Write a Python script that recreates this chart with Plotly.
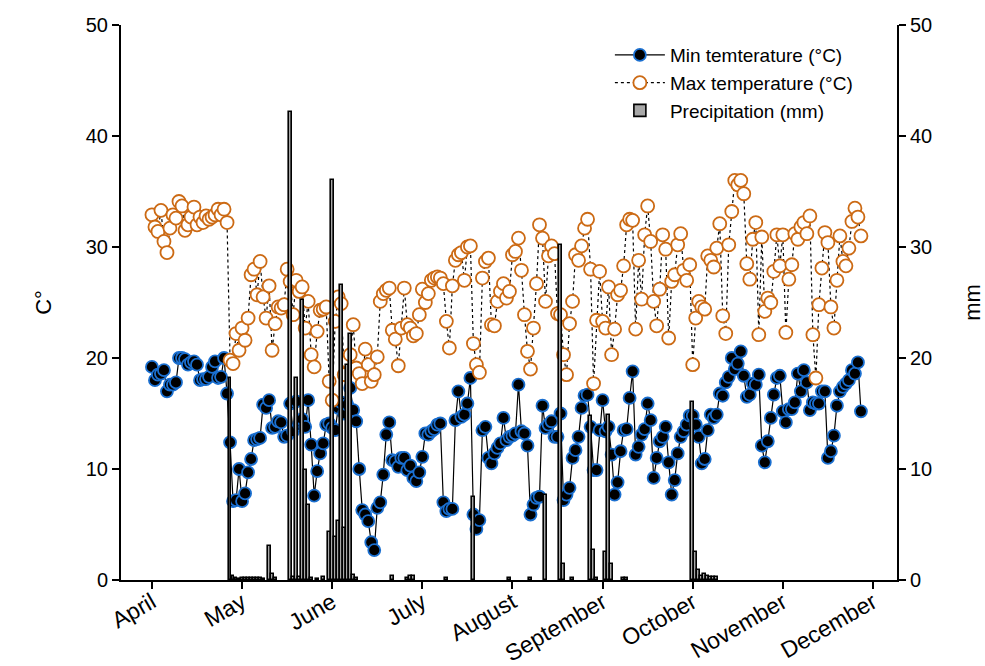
import plotly.graph_objects as go

# Day index from 1 April (ticks every 30 days labelled by month)
month_labels = ["April", "May", "June", "July", "August", "September", "October", "November", "December"]
month_ticks = [0, 30, 60, 90, 120, 150, 180, 210, 240]

min_temp = [
    19.2, 18.0, 18.5, 18.6, 18.9, 17.0, 17.6, 17.6, 17.8, 20.0,
    20.0, 19.9, 19.4, 19.6, 19.7, 19.4, 18.0, 18.1, 18.1, 18.3,
    19.2, 19.7, 18.2, 18.3, 20.0, 16.8, 12.4, 7.1, 7.2, 10.0,
    7.1, 7.8, 9.7, 10.9, 12.6, 12.7, 12.8, 15.8, 15.5, 16.2,
    13.7, 13.8, 14.3, 14.2, 12.9, 13.0, 15.9, 13.4, 16.1, 14.0,
    14.5, 13.8, 16.2, 12.2, 7.6, 9.8, 11.4, 12.3, 14.0, 14.1,
    13.7, 13.5, 15.5, 16.0, 15.0, 15.8, 17.3, 15.3, 14.3, 10.0,
    6.3, 5.9, 5.3, 3.4, 2.7, 6.5, 7.0, 9.5, 13.1, 14.2,
    10.8, 10.7, 10.2, 11.0, 11.0, 9.9, 10.3, 9.2, 8.9, 9.7,
    11.1, 13.2, 13.1, 13.4, 13.6, 14.0, 14.1, 7.0, 6.2, 6.4,
    6.4, 14.4, 17.0, 14.7, 14.9, 15.9, 18.2, 5.9, 4.6, 5.4,
    13.5, 13.8, 11.0, 10.5, 11.4, 11.9, 12.3, 14.6, 12.6, 12.9,
    13.0, 13.2, 17.6, 13.4, 13.2, 12.1, 5.9, 6.8, 7.4, 7.5,
    15.7, 13.7, 14.0, 14.3, 12.9, 12.9, 15.0, 7.2, 7.7, 8.3,
    11.0, 11.7, 12.9, 15.5, 16.6, 16.7, 13.8, 9.9, 9.9, 13.5,
    16.2, 13.4, 13.8, 11.3, 7.7, 8.8, 11.6, 13.5, 13.6, 16.4,
    18.8, 11.3, 12.0, 13.1, 13.6, 15.9, 14.4, 9.2, 11.0, 12.5,
    12.9, 13.8, 10.6, 7.7, 9.0, 11.4, 12.9, 13.4, 14.0, 14.8,
    14.8, 14.0, 12.9, 10.5, 10.9, 13.5, 14.9, 14.6, 14.9, 16.8,
    16.6, 17.8, 18.3, 20.0, 19.0, 19.5, 20.6, 18.4, 16.5, 16.7,
    17.7, 17.6, 18.5, 12.1, 10.6, 12.5, 14.6, 16.7, 18.2, 18.4,
    15.2, 14.2, 15.4, 15.4, 16.0, 18.6, 17.0, 18.9, 17.8, 15.3,
    16.0, 15.9, 15.9, 17.0, 17.0, 11.0, 11.6, 13.0, 15.7, 17.0,
    17.4, 17.7, 18.0, 18.9, 18.6, 19.6, 15.2,
]

max_temp = [
    32.9, 31.8, 31.4, 33.3, 30.5, 29.5, 31.7, 32.9, 32.6, 34.1,
    33.7, 31.5, 32.0, 32.7, 33.6, 32.0, 32.7, 32.2, 32.8, 32.5,
    32.7, 32.9, 33.4, 32.9, 33.4, 32.2, 19.8, 19.5, 22.2, 20.7,
    22.7, 21.6, 23.6, 27.5, 28.0, 25.7, 28.7, 25.5, 23.6, 26.5,
    20.7, 23.1, 24.6, 24.5, 24.8, 28.0, 26.9, 23.9, 27.0, 26.0,
    26.4, 22.7, 25.1, 20.3, 19.2, 22.4, 24.3, 24.4, 24.6, 17.9,
    16.2, 23.3, 25.5, 24.9, 18.5, 19.7, 20.3, 23.0, 19.1, 18.6,
    17.7, 20.8, 19.4, 17.9, 18.5, 20.1, 25.1, 25.8, 26.1, 26.3,
    22.5, 21.7, 19.3, 22.7, 26.3, 23.0, 22.7, 22.0, 22.2, 23.9,
    26.2, 25.0, 25.8, 27.0, 27.2, 27.3, 27.2, 26.7, 23.3, 20.9,
    26.5, 28.8, 29.3, 29.5, 27.0, 30.0, 30.1, 21.3, 19.4, 18.7,
    27.2, 28.7, 29.0, 23.0, 22.9, 25.1, 26.0, 26.7, 25.4, 26.0,
    29.3, 29.6, 30.8, 27.9, 23.9, 20.6, 19.0, 22.7, 26.7, 32.0,
    30.8, 25.1, 29.2, 30.1, 29.4, 24.0, 23.9, 20.3, 18.5, 23.1,
    25.1, 29.3, 28.8, 30.1, 31.7, 32.5, 28.0, 17.7, 23.4, 27.8,
    23.3, 22.7, 26.4, 20.3, 22.6, 25.7, 26.1, 28.3, 32.0, 32.5,
    32.4, 22.6, 28.8, 25.3, 31.1, 33.7, 30.5, 25.1, 22.9, 26.2,
    31.1, 29.8, 21.8, 26.9, 27.5, 30.2, 31.2, 27.9, 27.0, 28.4,
    19.4, 23.6, 25.1, 24.6, 24.4, 29.2, 28.8, 28.2, 29.9, 32.1,
    23.8, 22.2, 30.2, 33.2, 36.0, 35.6, 36.0, 34.8, 28.5, 27.1,
    30.7, 32.2, 22.1, 30.9, 24.2, 25.4, 25.0, 27.8, 31.1, 28.3,
    31.1, 22.3, 27.1, 28.4, 31.2, 30.7, 31.8, 32.2, 31.2, 32.8,
    22.1, 18.2, 24.8, 28.1, 31.3, 30.4, 24.6, 22.7, 27.0, 31.0,
    28.7, 28.3, 29.9, 32.3, 33.5, 32.7, 31.0,
]

precip_days = [
    26, 27, 28, 29, 30, 31, 32, 33, 34, 35, 36, 37, 39, 40, 41,
    46, 47, 48, 49, 50, 51, 52, 53, 55, 57, 59, 60, 61, 62, 63, 64, 65, 66, 67, 68,
    80, 85, 86, 87, 98, 107, 119, 126, 131, 136, 137, 140,
    146, 147, 148, 151, 152, 153, 157, 158,
    180, 181, 182, 183, 184, 185, 186, 187, 188,
]
precip_mm = [
    18.2, 0.4, 0.2, 0.1, 0.2, 0.2, 0.2, 0.2, 0.2, 0.2, 0.2, 0.1, 3.1, 0.5, 0.2,
    42.2, 0.3, 18.2, 0.3, 25.2, 9.9, 6.8, 0.2, 0.1, 0.3, 4.3, 36.0, 3.9, 5.3, 26.6, 4.7, 19.4, 22.2, 0.45, 0.2,
    0.4, 0.2, 0.4, 0.4, 0.2, 7.5, 0.2, 0.2, 7.7, 30.2, 1.4, 0.2,
    14.8, 2.7, 0.2, 2.5, 14.9, 1.4, 0.2, 0.2,
    16.0, 2.5, 0.9, 0.4, 0.5, 0.4, 0.3, 0.3, 0.3,
]

days = list(range(len(min_temp)))

FONT = "Arial, Liberation Sans, Helvetica, sans-serif"

fig = go.Figure()

fig.add_trace(go.Scatter(
    x=days, y=min_temp, mode="lines+markers",
    name="Min temterature (°C)",
    line=dict(color="black", width=1.2),
    marker=dict(symbol="circle", size=12, color="black",
                line=dict(color="#1a6fd0", width=1.8)),
))

fig.add_trace(go.Scatter(
    x=days, y=max_temp, mode="lines+markers",
    name="Max temperature (°C)",
    line=dict(color="black", width=1.2, dash="dot"),
    marker=dict(symbol="circle", size=13, color="white",
                line=dict(color="#cc6a14", width=1.8)),
))

fig.add_trace(go.Bar(
    x=precip_days, y=precip_mm, name="Precipitation (mm)",
    yaxis="y2", width=0.95,
    marker=dict(color="#a8a8a8", line=dict(color="black", width=1.6)),
))

axis_common = dict(
    showgrid=False, zeroline=False, showline=True, linecolor="black", linewidth=2,
    ticks="outside", ticklen=7, tickwidth=1.5, tickcolor="black",
    tickfont=dict(family=FONT, size=20, color="black"),
)

fig.update_layout(
    width=985, height=666,
    margin=dict(l=121, r=88, t=25, b=86, autoexpand=False),
    plot_bgcolor="white", paper_bgcolor="white",
    font=dict(family=FONT, color="black"),
    bargap=0,
    showlegend=True,
    legend=dict(
        x=0.63, y=0.98, xanchor="left", yanchor="top",
        font=dict(family=FONT, size=19, color="black"),
        bgcolor="rgba(0,0,0,0)", borderwidth=0,
        tracegroupgap=0, itemwidth=50,
    ),
    xaxis=dict(
        range=[-10.3, 248.0], automargin=False,
        tickvals=month_ticks, ticktext=month_labels, tickangle=-30,
        ticklabelstandoff=-9,
        **{**axis_common, "tickfont": dict(family=FONT, size=23, color="black")},
    ),
    yaxis=dict(
        range=[0, 50], tickvals=[0, 10, 20, 30, 40, 50], automargin=False,
        title=dict(text="C°", font=dict(family=FONT, size=22, color="black"), standoff=28),
        **axis_common,
    ),
    yaxis2=dict(
        range=[0, 50], tickvals=[0, 10, 20, 30, 40, 50], automargin=False,
        overlaying="y", side="right",
        title=dict(text="mm", font=dict(family=FONT, size=22, color="black"), standoff=40),
        **axis_common,
    ),
)

fig.write_html("out.html")
